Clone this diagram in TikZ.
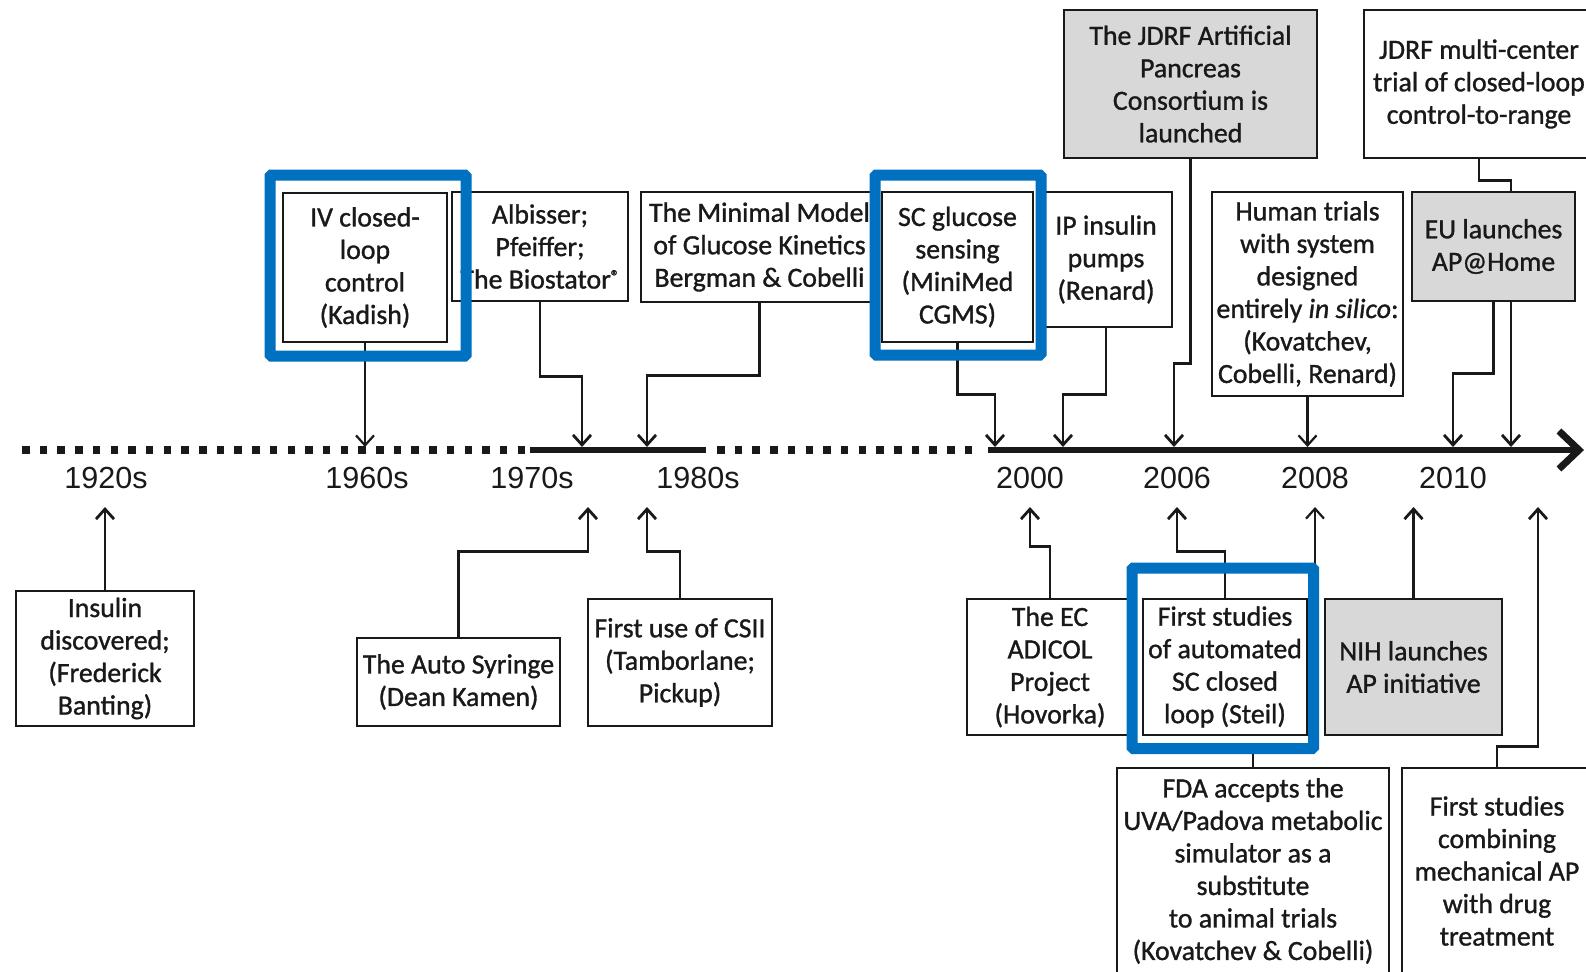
\documentclass[tikz,border=0pt]{standalone}
\usepackage{fontspec}
\setmainfont{Carlito}
\newfontfamily\boxfont{Carlito}[RawFeature={embolden=1.1}]
\newfontfamily\yearfont{Liberation Sans}
\usetikzlibrary{arrows.meta}
\definecolor{hlblue}{RGB}{0,112,192}
\definecolor{boxgray}{RGB}{216,216,216}
\definecolor{ink}{RGB}{25,25,25}
\tikzset{
  box/.style={draw=ink, line width=2.5pt, inner sep=0pt, align=center, text=ink,
    font=\boxfont\fontsize{27.8}{32.5}\selectfont},
  graybox/.style={box, fill=boxgray},
  hl/.style={inner sep=0pt, outer sep=0pt},
  hlframe/.style={draw=hlblue, line width=11pt, rounded corners=1.5pt},
  conn/.style={draw=ink, line width=2.8pt, -{Straight Barb[length=10pt,width=18pt]}},
  thin/.style={line width=2.2pt},
  link/.style={draw=ink, line width=2.8pt},
  year/.style={font=\yearfont\fontsize{30.5}{30}\selectfont, text=ink, inner sep=0pt},
  dotax/.style={draw=ink, line width=7.5pt, dash pattern=on 7.5pt off 10.2pt},
  solidax/.style={draw=ink, line width=6pt}
}
\begin{document}
\begin{tikzpicture}[x=1pt,y=-1pt]
\useasboundingbox (0,0) rectangle (1586,971);
\fill[white] (0,0) rectangle (1586,971);
\clip (0,0) rectangle (1586,971);

% ---- axis ----
\coordinate (a0) at (22,450);
\coordinate (a1) at (530,450);
\coordinate (a2) at (706,450);
\coordinate (a3) at (717,450);
\coordinate (a4) at (978,450);
\coordinate (a5) at (988,450);
\coordinate (a6) at (1584,450);
\draw[dotax] (a0) -- (a1);
\draw[solidax] (a1) -- (a2);
\draw[dotax] (a3) -- (a4);
\draw[solidax, -{Straight Barb[length=20pt,width=38pt,line width=7pt]}] (a5) -- (a6);

% ---- year labels ----
\node[year] (y1920) at (106,478) {1920s};
\node[year] (y1960) at (367,478) {1960s};
\node[year] (y1970) at (532,478) {1970s};
\node[year] (y1980) at (698,478) {1980s};
\node[year] (y2000) at (1030,478) {2000};
\node[year] (y2006) at (1177,478) {2006};
\node[year] (y2008) at (1315,478) {2008};
\node[year] (y2010) at (1453,478) {2010};

% ---- arrow tip points ----
\coordinate (t1960) at (365,447);
\coordinate (tAlb) at (582,447);
\coordinate (tMin) at (647,447);
\coordinate (tSC) at (995,447);
\coordinate (tIP) at (1063,447);
\coordinate (tJD) at (1174,447);
\coordinate (tHum) at (1307.5,447);
\coordinate (tEUa) at (1453,447);
\coordinate (tEUb) at (1511,447);
\coordinate (bIns) at (105,507);
\coordinate (bAuto) at (588,507);
\coordinate (bCSII) at (647,507);
\coordinate (bEC) at (1030,507);
\coordinate (bSteil) at (1177,507);
\coordinate (b2008) at (1315,507);
\coordinate (bNIH) at (1413.5,507);
\coordinate (bComb) at (1538,507);

% ---- top boxes ----
\node[box, minimum width=164pt, minimum height=149pt] (iv) at (365,267.5)
  {IV closed-\\loop\\control\\(Kadish)};
\node[box, minimum width=176pt, minimum height=109pt] (alb) at (540,246.5)
  {Albisser;\\Pfeiffer;\\The Biostator\raisebox{0.5ex}{\fontsize{17}{17}\selectfont ®}};
\node[box, minimum width=237pt, minimum height=110pt] (mini) at (759.5,247)
  {The Minimal Model\\of Glucose Kinetics\\Bergman \& Cobelli};
\node[box, fill=white, minimum width=151pt, minimum height=150pt] (sc) at (957.5,267)
  {SC glucose\\sensing\\(MiniMed\\CGMS)};
\node[box, minimum width=132pt, minimum height=135pt] (ip) at (1106,259.5)
  {IP insulin\\pumps\\(Renard)};
\node[graybox, minimum width=253pt, minimum height=148pt] (jdrf) at (1190.5,84)
  {The JDRF Artificial\\Pancreas\\Consortium is\\launched};
\node[box, minimum width=191pt, minimum height=204pt] (hum) at (1307.5,294)
  {Human trials\\with system\\designed\\entirely {\itshape in silico}:\\(Kovatchev,\\Cobelli, Renard)};
\node[box, minimum width=230pt, minimum height=148pt] (multi) at (1479,84)
  {JDRF multi-center\\trial of closed-loop\\control-to-range};
\node[graybox, minimum width=163pt, minimum height=109pt] (eu) at (1493.5,246.5)
  {EU launches\\AP@Home};

% ---- bottom boxes ----
\node[box, minimum width=178pt, minimum height=135pt] (ins) at (105,658.5)
  {Insulin\\discovered;\\(Frederick\\Banting)};
\node[box, minimum width=203pt, minimum height=88pt] (auto) at (458.5,682)
  {The Auto Syringe\\(Dean Kamen)};
\node[box, minimum width=184pt, minimum height=127pt] (csii) at (680,662.5)
  {First use of CSII\\(Tamborlane;\\Pickup)};
\node[box, minimum width=166pt, minimum height=136pt] (ec) at (1050,667)
  {The EC\\ADICOL\\Project\\(Hovorka)};
\node[box, minimum width=164pt, minimum height=136pt] (steil) at (1225,667)
  {First studies\\of automated\\SC closed\\loop (Steil)};
\node[graybox, minimum width=177pt, minimum height=136pt] (nih) at (1413.5,667)
  {NIH launches\\AP initiative};
\node[box, minimum width=272pt, minimum height=206pt] (fda) at (1253,871)
  {FDA accepts the\\UVA/Padova metabolic\\simulator as a\\substitute\\to animal trials\\(Kovatchev \& Cobelli)};
\node[box, minimum width=190pt, minimum height=206pt] (comb) at (1497,871)
  {First studies\\combining\\mechanical AP\\with drug\\treatment};

% ---- highlight frame placeholders (border drawn at the end) ----
\node[hl, minimum width=196pt, minimum height=181pt] (hl1) at (368,265.5) {};
\node[hl, minimum width=166pt, minimum height=180pt] (hl2) at (958,265) {};
\node[hl, minimum width=181.5pt, minimum height=180.5pt] (hl3) at (1222.75,658.25) {};

% ---- connectors (top) ----
\draw[conn, thin] (iv.south) -- (t1960);
\draw[conn] (alb.south) -- ++(0,74) -| (tAlb);
\draw[conn] (mini.south) -- ++(0,72) -| (tMin);
\draw[conn] (sc.south) -- ++(0,51) -| (tSC);
\draw[conn] (ip.south) -- ++(0,66) -| (tIP);
\draw[conn] (jdrf.south) -- ++(0,204) -| (tJD);
\draw[conn, thin] (hum.south) -- (tHum);
\draw[link] (multi.south) -- ++(0,21) -| (tEUb |- eu.north);
\draw[conn] (eu.south) -- ++(0,71) -| (tEUa);
\draw[conn] (tEUb |- eu.south) -- (tEUb);

% ---- connectors (bottom) ----
\draw[conn] (ins.north) -- (bIns);
\draw[conn] (auto.north) -- ++(0,-85) -| (bAuto);
\draw[conn] (csii.north) -- ++(0,-46) -| (bCSII);
\draw[conn] (ec.north) -- ++(0,-51) -| (bEC);
\draw[conn] (steil.north) -- ++(0,-46) -| (bSteil);
\draw[conn] (nih.north) -- (bNIH);
\draw[link] (fda.north) -- (fda.north |- hl3.south);
\draw[conn, thin] (b2008 |- hl3.north) -- (b2008);
\draw[conn] (comb.north) -- ++(0,-20) -| (bComb);

% ---- highlight frames on top ----
\draw[hlframe] (hl1.north west) rectangle (hl1.south east);
\draw[hlframe] (hl2.north west) rectangle (hl2.south east);
\draw[hlframe] (hl3.north west) rectangle (hl3.south east);
\end{tikzpicture}
\end{document}
